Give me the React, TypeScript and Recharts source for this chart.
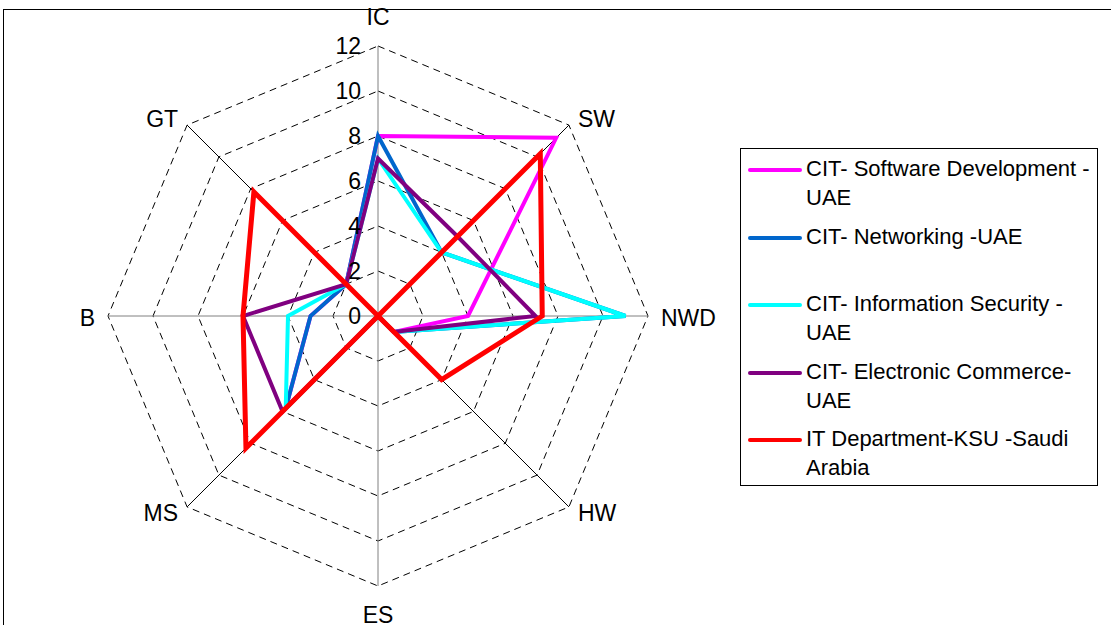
import React from "react";
import {
  RadarChart,
  Radar,
  PolarGrid,
  PolarAngleAxis,
  PolarRadiusAxis,
  Legend,
} from "recharts";

// skill areas, clockwise from the top
const skills = ["IC", "SW", "NWD", "HW", "ES", "MS", "B", "GT"];

const softwareDev = [8, 11.2, 4, 1, 0, 5.8, 3, 2];
const networking = [8, 4, 11, 1, 0, 5.8, 3, 2];
const infoSecurity = [7, 4, 11, 1, 0, 5.8, 4, 2];
const eCommerce = [7, 5, 7, 1, 0, 6, 6, 2];
const itKsu = [0, 10.2, 7.3, 4, 0, 8.3, 6, 7.8];

const radiusTicks = [0, 2, 4, 6, 8, 10, 12];

const FONT = '"Liberation Sans", Arial, sans-serif';
const CX = 378;
const CY = 316;
const R = 270;

const series = [
  { key: "sd", name: "CIT- Software Development -\nUAE", color: "#ff00ff", width: 4 },
  { key: "nw", name: "CIT- Networking -UAE", color: "#0066cc", width: 4 },
  { key: "is", name: "CIT- Information Security -\nUAE", color: "#00ffff", width: 4 },
  { key: "ec", name: "CIT- Electronic Commerce-\nUAE", color: "#800080", width: 4 },
  { key: "ksu", name: "IT Department-KSU -Saudi\nArabia", color: "#ff0000", width: 5 },
];

const data = skills.map((skill, i) => ({
  skill,
  sd: softwareDev[i],
  nw: networking[i],
  is: infoSecurity[i],
  ec: eCommerce[i],
  ksu: itKsu[i],
}));

function AngleTick(props: any) {
  const { payload } = props;
  const idx = props.index ?? skills.indexOf(payload.value);
  const a = ((90 - idx * 45) * Math.PI) / 180;
  const cos = Math.cos(a);
  const sin = Math.sin(a);
  const ox = CX + R * cos;
  const oy = CY - R * sin;
  let tx = ox;
  let ty = oy;
  let anchor = "middle";
  if (Math.abs(cos) < 0.01) {
    ty = oy - Math.sign(sin) * 29;
  } else if (Math.abs(sin) < 0.01) {
    tx = ox + Math.sign(cos) * 13;
    ty = oy + 2;
    anchor = cos > 0 ? "start" : "end";
  } else {
    tx = ox + Math.sign(cos) * 9;
    ty = oy - Math.sign(sin) * 6;
    anchor = cos > 0 ? "start" : "end";
  }
  return (
    <text
      x={tx}
      y={ty}
      textAnchor={anchor}
      dominantBaseline="central"
      fontSize={23}
      fontFamily={FONT}
      fill="#000"
    >
      {payload.value}
    </text>
  );
}

function RadiusTick({ x, y, payload }: any) {
  return (
    <text
      x={x - 17}
      y={y}
      textAnchor="end"
      dominantBaseline="central"
      fontSize={23}
      fontFamily={FONT}
      fill="#000"
    >
      {payload.value}
    </text>
  );
}

function LegendBox() {
  return (
    <div
      style={{
        position: "relative",
        width: 358,
        height: 338,
        border: "1px solid #000",
        boxSizing: "border-box",
        background: "#fff",
        fontFamily: FONT,
        fontSize: 22,
        color: "#000",
      }}
    >
      {series.map((s, i) => (
        <div
          key={s.key}
          style={{
            position: "absolute",
            top: 5 + i * 67.5,
            left: 7,
            display: "flex",
            alignItems: "flex-start",
          }}
        >
          <div
            style={{
              width: 54,
              height: 4,
              marginTop: 14,
              background: s.color,
              borderRadius: 2,
            }}
          />
          <div
            style={{
              marginLeft: 4,
              lineHeight: "29px",
              whiteSpace: "pre",
            }}
          >
            {s.name}
          </div>
        </div>
      ))}
    </div>
  );
}

export default function App() {
  return (
    <div
      style={{
        position: "absolute",
        left: 0,
        top: 0,
        width: 1111,
        height: 625,
        background: "#fff",
        overflow: "hidden",
      }}
    >
      <div
        style={{
          position: "absolute",
          left: 3,
          top: 9,
          width: 1200,
          height: 700,
          borderTop: "1.5px solid #000",
          borderLeft: "1.5px solid #000",
        }}
      />
      <RadarChart
        width={1111}
        height={625}
        data={data}
        cx={CX}
        cy={CY}
        outerRadius={R}
        margin={{ top: 0, right: 0, bottom: 0, left: 0 }}
        style={{ position: "absolute", left: 0, top: 0 }}
      >
        {/* dashed octagons */}
        <PolarGrid
          gridType="polygon"
          radialLines={false}
          stroke="#000"
          strokeWidth={1}
          strokeDasharray="7 5"
        />
        {/* diagonal spokes */}
        <PolarGrid
          gridType="polygon"
          polarRadius={[]}
          polarAngles={[45, -45, 135, -135]}
          stroke="#000"
          strokeWidth={1}
        />
        {/* vertical and horizontal spokes */}
        <PolarGrid
          gridType="polygon"
          polarRadius={[]}
          polarAngles={[90, 0, 180, -90]}
          stroke="#808080"
          strokeWidth={1}
        />
        <PolarAngleAxis
          dataKey="skill"
          tick={AngleTick}
          tickLine={false}
          axisLine={false}
        />
        <PolarRadiusAxis
          angle={90}
          domain={[0, 12]}
          ticks={radiusTicks}
          tickCount={7}
          axisLine={false}
          tickLine={false}
          tick={RadiusTick}
        />
        {series.map((s) => (
          <Radar
            key={s.key}
            dataKey={s.key}
            name={s.name}
            stroke={s.color}
            strokeWidth={s.width}
            fill="none"
            fillOpacity={0}
            dot={false}
            isAnimationActive={false}
          />
        ))}
        <Legend
          layout="vertical"
          align="right"
          verticalAlign="top"
          content={LegendBox}
          wrapperStyle={{ left: 740, top: 148, width: 358, height: 338 }}
        />
      </RadarChart>
    </div>
  );
}
